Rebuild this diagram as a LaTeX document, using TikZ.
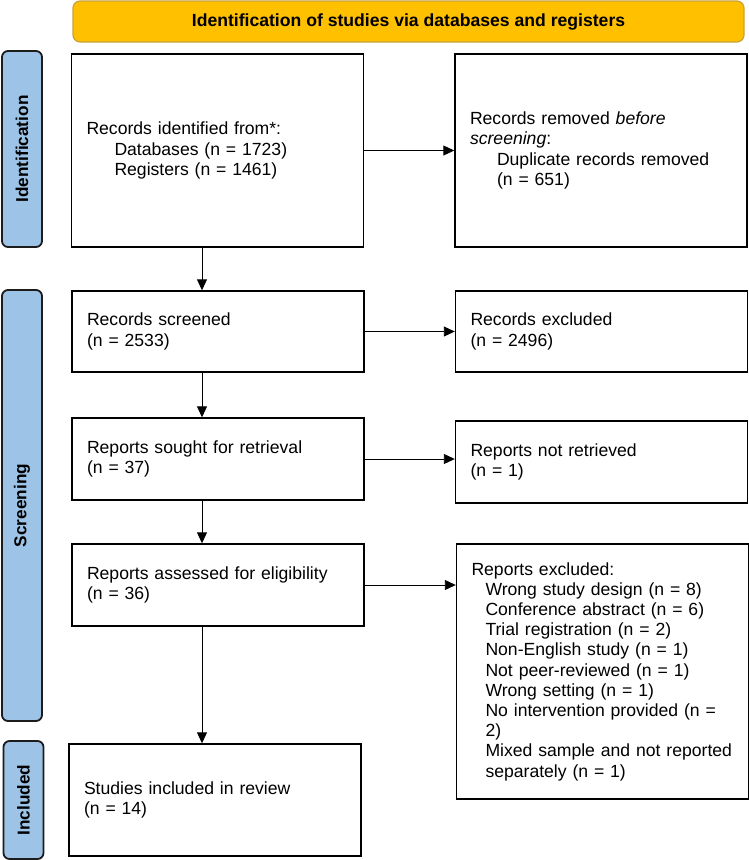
\documentclass[tikz,border=0pt]{standalone}
\usepackage{fontspec}
\setmainfont{Liberation Sans}
\usepackage{tikz}
\usetikzlibrary{arrows.meta}
\definecolor{bannerfill}{HTML}{FFC000}
\definecolor{bannerdraw}{HTML}{C9A33A}
\definecolor{phasefill}{HTML}{9DC3E6}
\definecolor{phasedraw}{HTML}{1C1C1C}

\begin{document}
\begin{tikzpicture}[x=1pt,y=-1pt,
	box/.style={draw=black, line width=1.4pt, text width=262pt, inner xsep=15pt, inner ysep=0pt, align=left, font=\fontsize{17.6}{20.2}\selectfont},
	phase/.style={draw=phasedraw, fill=phasefill, line width=1.8pt, rounded corners=6pt, rotate=90, minimum height=40pt, inner sep=0pt, font=\fontsize{17.2}{20}\selectfont\bfseries},
	flow/.style={line width=0.9pt, -{Triangle[length=11pt,width=10pt]}}]
	\useasboundingbox (0,0) rectangle (749,860);
	\node[draw=bannerdraw, fill=bannerfill, line width=1.2pt, rounded corners=7pt, minimum width=671pt, minimum height=41pt, inner sep=0pt, font=\fontsize{17.6}{20}\selectfont\bfseries] (banner) at (408.5,21.5) {Identification of studies via databases and registers};
	\node[phase, minimum width=196pt] (lblident) at (22,149) {Identification};
	\node[phase, minimum width=431pt] (lblscreen) at (22,505.5) {Screening};
	\node[phase, minimum width=118pt] (lblincl) at (23.5,800) {Included};
	\node[box, minimum height=193pt] (ident) at (217.5,150.5) {Records identified from*:\\\hspace*{28pt}Databases (n = 1723)\\\hspace*{28pt}Registers (n = 1461)};
	\node[box, minimum height=193pt] (removed) at (601,150.5) {Records removed \textit{before}\\\textit{screening}:\\\hspace*{27pt}Duplicate records removed\\\hspace*{27pt}(n = 651)};
	\node[box, minimum height=81pt] (screened) at (218,331.5) {Records screened\\(n = 2533)};
	\node[box, minimum height=81pt] (excluded) at (601.5,331.5) {Records excluded\\(n = 2496)};
	\node[box, minimum height=82pt] (sought) at (218,459) {Reports sought for retrieval\\(n = 37)};
	\node[box, minimum height=82pt] (notretr) at (601.5,462) {Reports not retrieved\\(n = 1)};
	\node[box, minimum height=82pt] (assessed) at (218,585) {Reports assessed for eligibility\\(n = 36)};
	\node[box, minimum height=255pt] (repexcl) at (602.5,671.5) {Reports excluded:\\\hspace*{14pt}Wrong study design (n = 8)\\\hspace*{14pt}Conference abstract (n = 6)\\\hspace*{14pt}Trial registration (n = 2)\\\hspace*{14pt}Non-English study (n = 1)\\\hspace*{14pt}Not peer-reviewed (n = 1)\\\hspace*{14pt}Wrong setting (n = 1)\\\hspace*{14pt}No intervention provided (n =\\\hspace*{14pt}2)\\\hspace*{14pt}Mixed sample and not reported\\\hspace*{14pt}separately (n = 1)};
	\node[box, minimum height=112pt] (included) at (215,800) {Studies included in review\\(n = 14)};
	\coordinate (spine) at (202,0);
	\draw[flow] (ident.south -| spine) -- (screened.north -| spine);
	\draw[flow] (screened.south -| spine) -- (sought.north -| spine);
	\draw[flow] (sought.south -| spine) -- (assessed.north -| spine);
	\draw[flow] (assessed.south -| spine) -- (included.north -| spine);
	\draw[flow] (ident.east) -- (ident.east -| removed.west);
	\draw[flow] (screened.east) -- (screened.east -| excluded.west);
	\draw[flow] (sought.east) -- (sought.east -| notretr.west);
	\draw[flow] (assessed.east) -- (assessed.east -| repexcl.west);
\end{tikzpicture}
\end{document}
